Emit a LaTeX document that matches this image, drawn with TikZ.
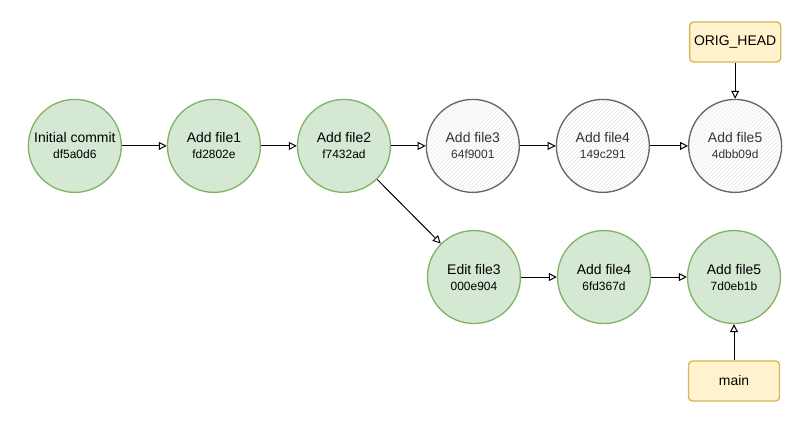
\documentclass[tikz,border=0pt]{standalone}
\usepackage{fontspec}
\setmainfont{Liberation Sans}
\usepackage{tikz}
\usetikzlibrary{arrows.meta, patterns, positioning}
\definecolor{commitfill}{HTML}{D5E8D4}
\definecolor{commitdraw}{HTML}{82B366}
\definecolor{reffill}{HTML}{FFF2CC}
\definecolor{refdraw}{HTML}{D6B656}
\definecolor{olddraw}{HTML}{666666}
\definecolor{oldtext}{HTML}{333333}
\newcommand{\hashtxt}[1]{{\fontsize{9}{12}\selectfont #1}}

\begin{document}
\begin{tikzpicture}[>={Triangle[open, length=6pt, width=6pt]}, line width=0.75pt,
    commit/.style={circle, draw=commitdraw, fill=commitfill, line width=1pt, minimum size=2.46cm, inner sep=0pt, align=center, font=\fontsize{10.5}{12}\selectfont},
    oldcommit/.style={circle, draw=olddraw, pattern=north east lines, pattern color=black!10, line width=1pt, minimum size=2.46cm, inner sep=0pt, align=center, text=oldtext, font=\fontsize{10.5}{12}\selectfont},
    branchref/.style={draw=refdraw, fill=reffill, rounded corners=3pt, line width=1pt, minimum width=2.41cm, minimum height=1.06cm, font=\fontsize{10.5}{12}\selectfont}]
    \useasboundingbox (0,0) rectangle (21.14,-11.14);
    % 公共历史
    \node[commit] (init) at (1.98,-3.86) {Initial commit\\\hashtxt{df5a0d6}};
    \node[commit] (file1) at (5.66,-3.86) {Add file1\\\hashtxt{fd2802e}};
    \node[commit] (file2) at (9.10,-3.86) {Add file2\\\hashtxt{f7432ad}};
    
    % 重置前的提交
    \node[oldcommit] (oldfile3) at (12.51,-3.86) {Add file3\\\hashtxt{64f9001}};
    \node[oldcommit] (oldfile4) at (15.95,-3.86) {Add file4\\\hashtxt{149c291}};
    \node[oldcommit] (oldfile5) at (19.45,-3.86) {Add file5\\\hashtxt{4dbb09d}};
    \node[branchref] (orighead) at (19.45,-1.11) {ORIG\_HEAD};
    
    % 新的提交
    \node[commit] (editfile3) at (12.54,-7.33) {Edit file3\\\hashtxt{000e904}};
    \node[commit] (newfile4) at (15.98,-7.33) {Add file4\\\hashtxt{6fd367d}};
    \node[commit] (newfile5) at (19.42,-7.33) {Add file5\\\hashtxt{7d0eb1b}};
    \node[branchref] (mainref) at (19.42,-10.08) {main};
    
    \draw[->] (init) -- (file1);
    \draw[->] (file1) -- (file2);
    \draw[->] (file2) -- (oldfile3);
    \draw[->] (oldfile3) -- (oldfile4);
    \draw[->] (oldfile4) -- (oldfile5);
    \draw[->] (orighead) -- (oldfile5);
    \draw[->] (file2) -- (editfile3);
    \draw[->] (editfile3) -- (newfile4);
    \draw[->] (newfile4) -- (newfile5);
    \draw[->] (mainref) -- (newfile5);
\end{tikzpicture}
\end{document}
